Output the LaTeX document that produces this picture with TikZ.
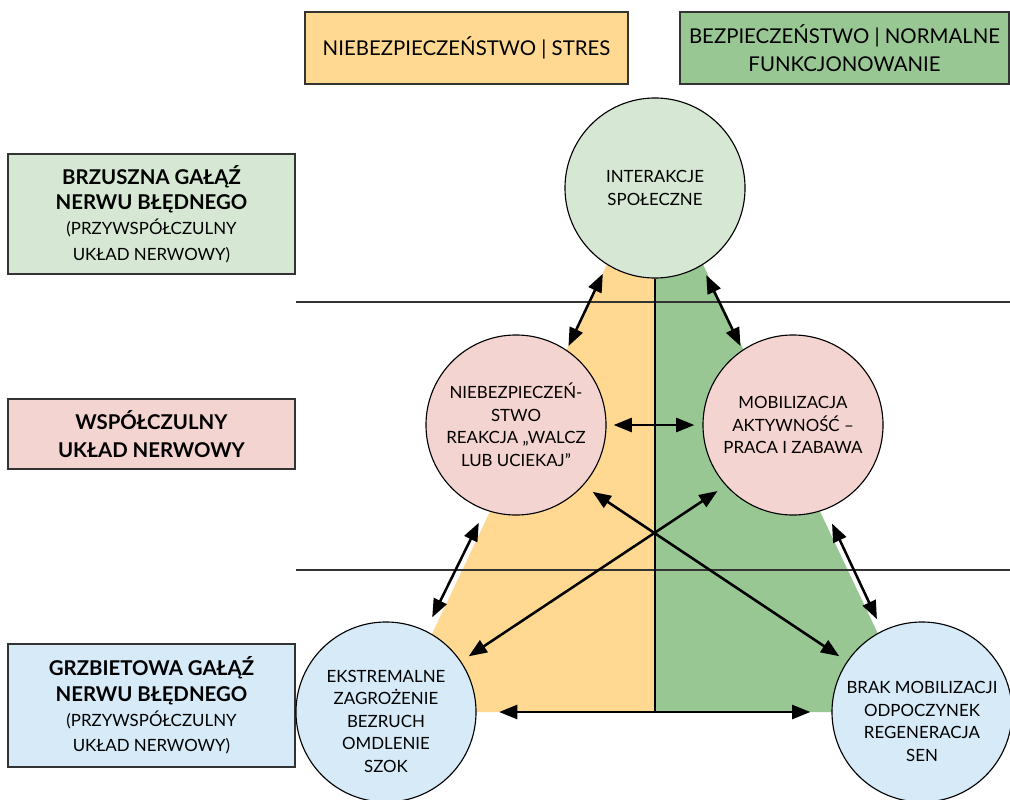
\documentclass[tikz,border=0pt]{standalone}
\usepackage{fontspec}
\setmainfont{Lato}
\usepackage{xcolor}
\usetikzlibrary{arrows.meta}
\definecolor{kStres}{HTML}{FFD992}
\definecolor{kNormal}{HTML}{98C793}
\definecolor{kBrzuszna}{HTML}{D6E8D4}
\definecolor{kWspol}{HTML}{F4D4D0}
\definecolor{kGrzbiet}{HTML}{D6EAF7}
\definecolor{kRamka}{HTML}{333333}

\begin{document}
\begin{tikzpicture}[x=0.025cm,y=-0.025cm,
    stan/.style={circle,draw=black,line width=0.8pt,minimum size=4.5cm,inner sep=0pt,
        align=center,font=\fontsize{12}{16}\selectfont},
    opis/.style={rectangle,draw=kRamka,line width=0.9pt,minimum width=7.175cm,align=center,
        font=\fontsize{14.5}{18}\selectfont},
    naglowek/.style={rectangle,draw=kRamka,line width=0.9pt,minimum height=1.8cm,
        align=center,font=\fontsize{14.5}{20}\selectfont},
    dwa/.style={line width=1.8pt,{Triangle[length=13pt,width=10pt]}-{Triangle[length=13pt,width=10pt]}},
    linia/.style={kRamka,line width=0.9pt}]
            \useasboundingbox (0,0) rectangle (1010,800);
            % Triangle background
            \coordinate (apex) at (655,163);
            \coordinate (baseL) at (395,712);
            \coordinate (baseM) at (655,712);
            \coordinate (baseR) at (915,712);
            \fill[kStres] (apex) -- (baseL) -- (baseM) -- cycle;
            \fill[kNormal] (apex) -- (baseR) -- (baseM) -- cycle;
            % Level lines
            \coordinate (gora1) at (296,302); \coordinate (gora2) at (1010,302);
            \coordinate (dol1) at (296,570); \coordinate (dol2) at (1010,570);
            \draw[linia] (gora1) -- (gora2);
            \draw[linia] (dol1) -- (dol2);
            % Headers
            \node[naglowek,fill=kStres,minimum width=8.075cm] (stres) at (466.5,48)
                {NIEBEZPIECZEŃSTWO | STRES};
            \node[naglowek,fill=kNormal,minimum width=8.225cm] (bezpiecz) at (844.5,48)
                {BEZPIECZEŃSTWO | NORMALNE\\FUNKCJONOWANIE};
            % Left boxes
            \node[opis,fill=kBrzuszna,minimum height=3cm] (brzuszna) at (151.5,214)
                {\textbf{BRZUSZNA GAŁĄŹ}\\
                 \textbf{NERWU BŁĘDNEGO}\\
                 {\fontsize{12}{18}\selectfont (PRZYWSPÓŁCZULNY}\\
                 {\fontsize{12}{18}\selectfont UKŁAD NERWOWY)}};
            \node[opis,fill=kWspol,minimum height=1.75cm,font=\fontsize{14.5}{20}\selectfont]
                (wspolczulny) at (151.5,434)
                {\textbf{WSPÓŁCZULNY}\\
                 \textbf{UKŁAD NERWOWY}};
            \node[opis,fill=kGrzbiet,minimum height=3.075cm] (grzbietowa) at (151.5,705.5)
                {\textbf{GRZBIETOWA GAŁĄŹ}\\
                 \textbf{NERWU BŁĘDNEGO}\\
                 {\fontsize{12}{18}\selectfont (PRZYWSPÓŁCZULNY}\\
                 {\fontsize{12}{18}\selectfont UKŁAD NERWOWY)}};
            % States
            \node[stan,fill=kBrzuszna] (interakcje) at (655,188) {INTERAKCJE\\SPOŁECZNE};
            \node[stan,fill=kWspol] (walcz) at (516,425)
                {NIEBEZPIECZEŃ-\\STWO\\REAKCJA „WALCZ\\LUB UCIEKAJ”};
            \node[stan,fill=kWspol] (mobil) at (793,425)
                {MOBILIZACJA\\AKTYWNOŚĆ –\\PRACA I ZABAWA};
            \node[stan,fill=kGrzbiet] (szok) at (386,712)
                {\rule{0pt}{22pt}EKSTREMALNE\\ZAGROŻENIE\\BEZRUCH\\OMDLENIE\\SZOK};
            \node[stan,fill=kGrzbiet] (odpoczynek) at (922,712)
                {\rule{0pt}{22pt}BRAK MOBILIZACJI\\ODPOCZYNEK\\REGENERACJA\\SEN};
            \draw[black,line width=0.8pt] (interakcje.south) -- (baseM); % divider
            % Arrows
            \draw[dwa,shorten <=7pt,shorten >=3pt] (interakcje.238) -- (walcz.56);
            \draw[dwa,shorten <=7.5pt,shorten >=3pt] (interakcje.301) -- (mobil.124);
            \draw[dwa,shorten <=10pt,shorten >=10.5pt] (walcz.250) -- (szok.64);
            \draw[dwa,shorten <=11pt,shorten >=9pt] (mobil.291) -- (odpoczynek.116);
            \draw[dwa,shorten <=8pt,shorten >=6.5pt] (walcz.318) -- (odpoczynek.146);
            \draw[dwa,shorten <=7pt,shorten >=6.5pt] (mobil.222) -- (szok.34);
            \draw[dwa,shorten <=5pt,shorten >=5.7pt] (walcz.east) -- (mobil.west);
            \draw[dwa,shorten <=16pt,shorten >=15pt] (szok.east) -- (odpoczynek.west);
\end{tikzpicture}
\end{document}
